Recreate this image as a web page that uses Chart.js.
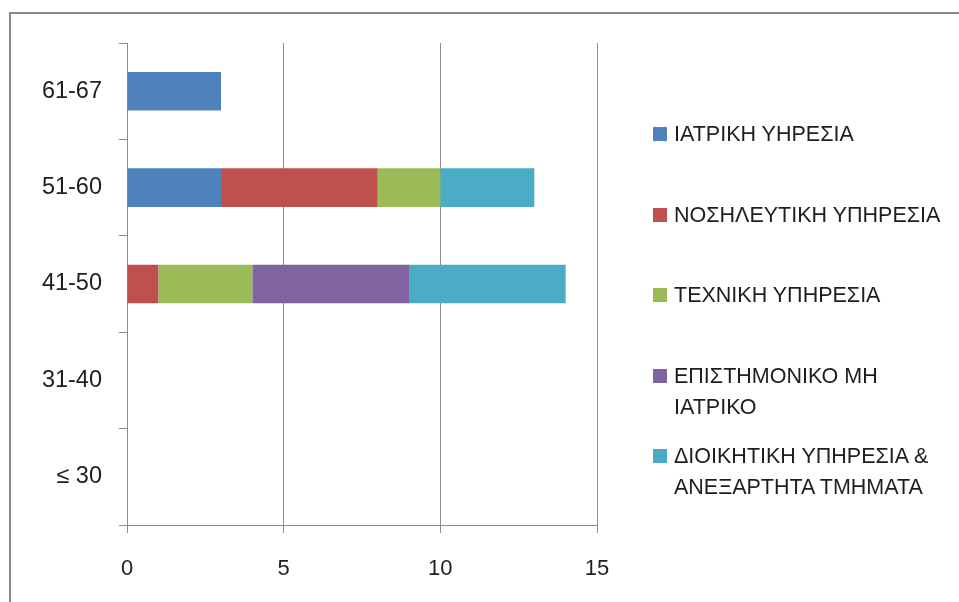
<!DOCTYPE html>
<html>
<head>
<meta charset="utf-8">
<script src="https://cdn.jsdelivr.net/npm/chart.js@4.4.0/dist/chart.umd.min.js"></script>
<style>
  html, body { margin: 0; padding: 0; background: #fff; overflow: hidden; }
  #wrap { position: relative; width: 959px; height: 602px; }
  #frame { position: absolute; left: 9px; top: 12px; width: 1000px; height: 700px;
           border: 2px solid #8a8a8a; box-sizing: border-box; }
  #canvasOne { position: absolute; left: 0; top: 0; }
  #legend { position: absolute; left: 653px; top: 94px; width: 300px;
            font-family: "Liberation Sans", sans-serif; font-size: 21.5px; color: #1e1e1e; }
  .item { position: relative; height: 80.5px; }
  .box { position: absolute; left: 0; top: 33px; width: 14px; height: 14px; }
  .txt { position: absolute; left: 21px; top: 25px; line-height: 31px; white-space: nowrap; }
</style>
</head>
<body>
<div id="wrap">
  <div id="frame"></div>
  <canvas id="canvasOne" width="959" height="602"></canvas>
  <div id="legend"></div>
</div>
<script>
// age groups, top to bottom
var ageGroups = ['61-67', '51-60', '41-50', '31-40', '\u2264 30'];

var seriesNames = [
  ['ΙΑΤΡΙΚΗ ΥΗΡΕΣΙΑ'],
  ['ΝΟΣΗΛΕΥΤΙΚΗ ΥΠΗΡΕΣΙΑ'],
  ['ΤΕΧΝΙΚΗ ΥΠΗΡΕΣΙΑ'],
  ['ΕΠΙΣΤΗΜΟΝΙΚΟ ΜΗ', 'ΙΑΤΡΙΚΟ'],
  ['ΔΙΟΙΚΗΤΙΚΗ ΥΠΗΡΕΣΙΑ &', 'ΑΝΕΞΑΡΤΗΤΑ ΤΜΗΜΑΤΑ']
];
var iatriki     = [3, 3, 0, 0, 0];
var nosileftiki = [0, 5, 1, 0, 0];
var texniki     = [0, 2, 3, 0, 0];
var epistimoniko = [0, 0, 5, 0, 0];
var dioikitiki  = [0, 3, 5, 0, 0];

var xTicks = [0, 5, 10, 15];
var colors = ['#4f81bd', '#c0504d', '#9bbb59', '#8064a2', '#4bacc6'];

var allValues = [iatriki, nosileftiki, texniki, epistimoniko, dioikitiki];

var datasets = allValues.map(function(vals, i) {
  return {
    label: seriesNames[i].join(' '),
    data: vals,
    backgroundColor: colors[i],
    borderWidth: 0,
    barPercentage: 0.4,
    categoryPercentage: 1.0
  };
});

var ctx = document.getElementById('canvasOne').getContext('2d');
var config = {
  type: 'bar',
  data: { labels: ageGroups, datasets: datasets },
  options: {
    indexAxis: 'y',
    responsive: false,
    animation: false,
    layout: { padding: { left: 0, top: 43, right: 362, bottom: 0 } },
    plugins: { legend: { display: false }, tooltip: { enabled: false } },
    scales: {
      x: {
        stacked: true,
        min: 0,
        max: 15,
        afterBuildTicks: function(axis) {
          axis.ticks = xTicks.map(function(v) { return { value: v }; });
        },
        afterFit: function(axis) { axis.height = 77; },
        grid: { color: '#8c8c8c', lineWidth: 1, tickLength: 8 },
        border: { display: true, color: '#8c8c8c' },
        ticks: {
          padding: 23,
          color: '#1e1e1e',
          font: { family: 'Liberation Sans', size: 22 }
        }
      },
      y: {
        stacked: true,
        afterFit: function(axis) { axis.width = 127; },
        grid: { drawOnChartArea: false, color: '#8c8c8c', tickLength: 8, offset: true },
        border: { display: true, color: '#8c8c8c' },
        ticks: {
          padding: 17,
          color: '#1e1e1e',
          font: { family: 'Liberation Sans', size: 23.5 }
        }
      }
    }
  }
};

var chart = new Chart(ctx, config);

// legend on the right
var legend = document.getElementById('legend');
seriesNames.forEach(function(name, i) {
  var item = document.createElement('div');
  item.className = 'item';
  var box = document.createElement('div');
  box.className = 'box';
  box.style.background = colors[i];
  var txt = document.createElement('div');
  txt.className = 'txt';
  txt.innerHTML = name.join('<br>');
  item.appendChild(box);
  item.appendChild(txt);
  legend.appendChild(item);
});
</script>
</body>
</html>
